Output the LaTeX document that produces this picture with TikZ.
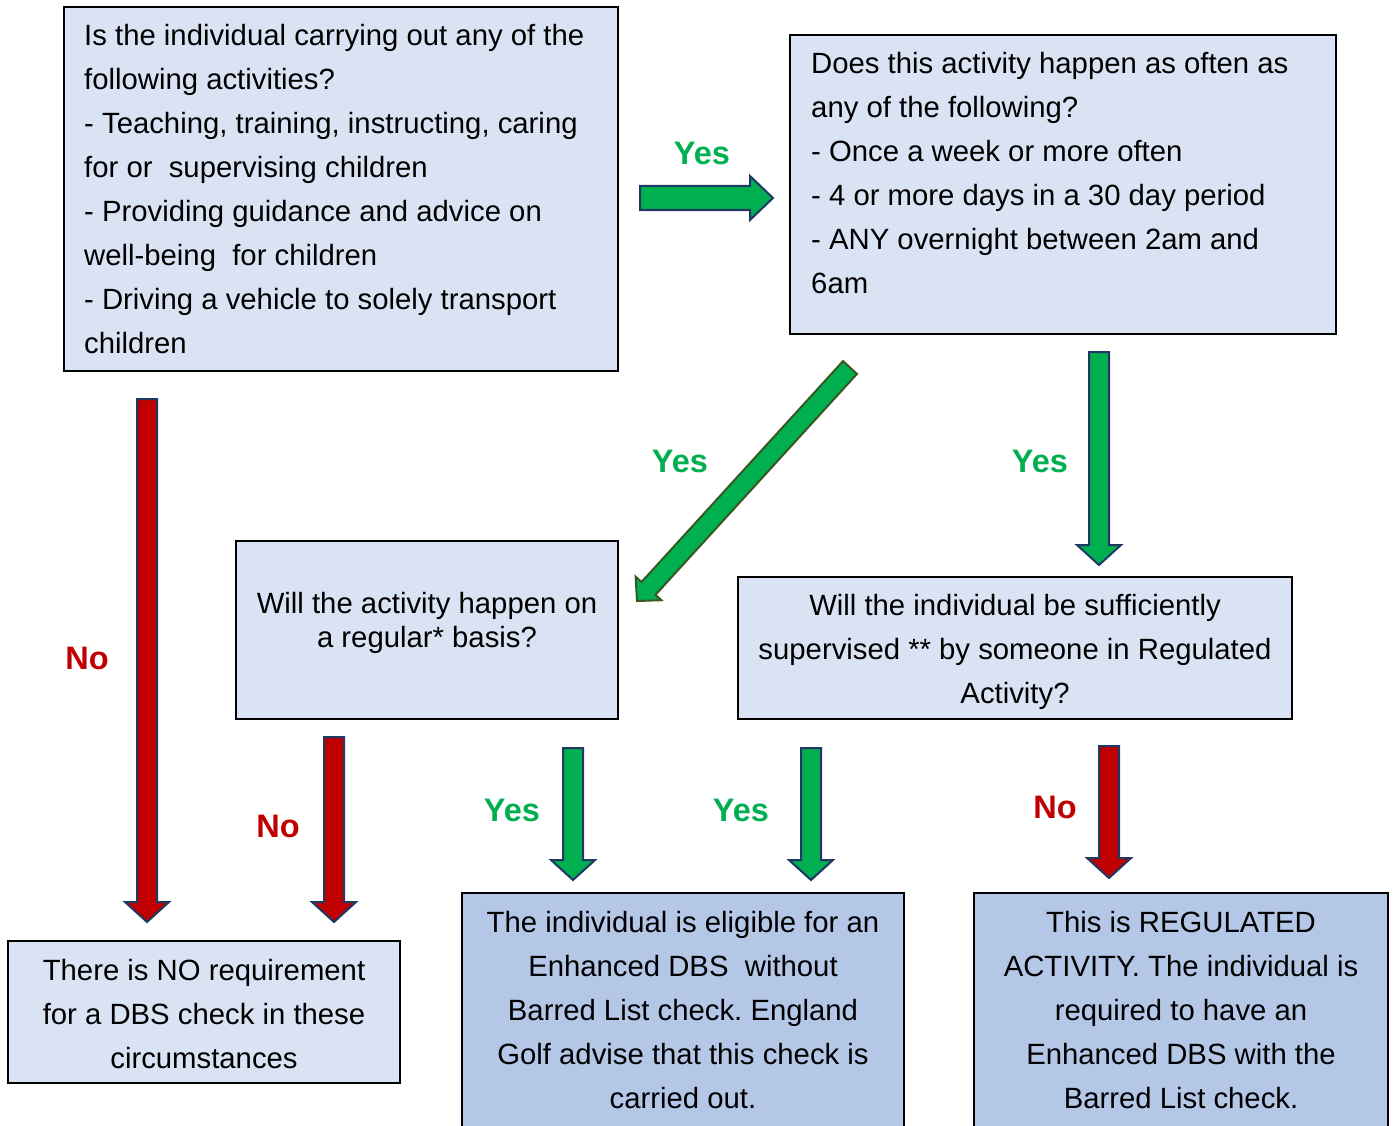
\documentclass[tikz,border=0pt]{standalone}
\usepackage{fontspec}
\setmainfont{Liberation Sans}
\frenchspacing
\definecolor{cLight}{HTML}{DAE3F3}
\definecolor{cDark}{HTML}{B4C7E7}
\definecolor{cGreen}{HTML}{00B050}
\definecolor{cRed}{HTML}{C00000}
\definecolor{cNavy}{HTML}{1F3864}
\definecolor{cDkGreen}{HTML}{385723}
\newcommand\downarr[4]{% style, x, top, tip
  \draw[#1] (#2-10,#3) -- (#2+10,#3) -- (#2+10,#4-20) -- (#2+22,#4-20) -- (#2,#4)
    -- (#2-22,#4-20) -- (#2-10,#4-20) -- cycle;}
\tikzset{
  box/.style={draw=black, line width=1.3pt, rectangle, inner sep=0pt, fill=cLight},
  dbox/.style={box, fill=cDark},
  txt/.style={inner sep=0pt, font=\fontsize{29.3}{44}\selectfont},
  yes/.style={inner sep=0pt, font=\fontsize{32.5}{36}\selectfont\bfseries, text=cGreen},
  no/.style={inner sep=0pt, font=\fontsize{32.5}{36}\selectfont\bfseries, text=cRed},
  garrow/.style={fill=cGreen, draw=cNavy, line width=2pt, line join=miter},
  rarrow/.style={fill=cRed, draw=cNavy, line width=2pt, line join=miter},
  darrow/.style={fill=cGreen, draw=cDkGreen, line width=2pt, line join=miter},
}
\begin{document}
\begin{tikzpicture}[x=1pt,y=-1pt]
\useasboundingbox (0,0) rectangle (1394,1126);
\clip (0,0) rectangle (1394,1126);

% boxes
\node[box, minimum width=554pt, minimum height=364pt] (qa) at (341,189) {};
\node[box, minimum width=546pt, minimum height=299pt] (qb) at (1063,184.5) {};
\node[box, minimum width=382pt, minimum height=178pt] (qc) at (427,630) {};
\node[box, minimum width=554pt, minimum height=142pt] (qd) at (1015,648) {};
\node[box, minimum width=392pt, minimum height=142pt] (re) at (204,1012) {};
\node[dbox, minimum width=442pt, minimum height=240pt] (rf) at (683,1013) {};
\node[dbox, minimum width=414pt, minimum height=240pt] (rg) at (1181,1013) {};

% texts
\node[txt, align=left, anchor=west] (ta) at (84,189.5) {Is the individual carrying out any of the\\following activities?\\- Teaching, training, instructing, caring\\for or \ supervising children\\- Providing guidance and advice on\\well-being \ for children\\- Driving a vehicle to solely transport\\children};
\node[txt, align=left, anchor=west] (tb) at (811,173.5) {Does this activity happen as often as\\any of the following?\\- Once a week or more often\\- 4 or more days in a 30 day period\\- ANY overnight between 2am and\\6am};
\node[txt, align=center, font=\fontsize{29.3}{34}\selectfont] (tc) at (427,623) {Will the activity happen on\\a regular* basis?};
\node[txt, align=center] (td) at (1015,652) {Will the individual be sufficiently\\supervised ** by someone in Regulated\\Activity?};
\node[txt, align=center] (te) at (204,1014.5) {There is NO requirement\\for a DBS check in these\\circumstances};
\node[txt, align=center] (tf) at (683,1010) {The individual is eligible for an\\Enhanced DBS \ without\\Barred List check. England\\Golf advise that this check is\\carried out.};
\node[txt, align=center] (tg) at (1181,1010) {This is REGULATED\\ACTIVITY. The individual is\\required to have an\\Enhanced DBS with the\\Barred List check.};

% arrows
\draw[garrow] (640,186) -- (750,186) -- (750,176) -- (773,198) -- (750,220) -- (750,210) -- (640,210) -- cycle;
\draw[darrow] (843.0,361.1) -- (857.0,373.9) -- (655.5,594.8) -- (661.4,600.2) -- (637,601)
  -- (635.6,576.6) -- (641.5,582.0) -- cycle;
\downarr{garrow}{1099}{352}{565}
\downarr{rarrow}{147}{399}{922}
\downarr{rarrow}{334}{737}{922}
\downarr{garrow}{573}{748}{880}
\downarr{garrow}{811}{748}{880}
\downarr{rarrow}{1109}{746}{878}

% labels
\node[yes] (y1) at (702,153) {Yes};
\node[yes] (y2) at (680,461) {Yes};
\node[yes] (y3) at (1040,461) {Yes};
\node[no] (n1) at (87,658) {No};
\node[no] (n2) at (278,826) {No};
\node[yes] (y4) at (512,810) {Yes};
\node[yes] (y5) at (741,810) {Yes};
\node[no] (n3) at (1055,807) {No};
\end{tikzpicture}
\end{document}
